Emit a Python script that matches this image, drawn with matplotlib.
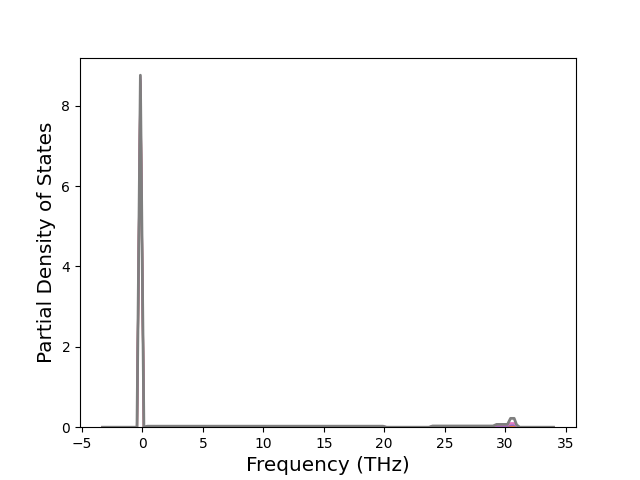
import matplotlib
matplotlib.use("Agg")
import matplotlib.pyplot as plt

# frequency breakpoints (THz)
freq = [-3.3, -0.45, -0.17, 0.12, 0.4, 19.9, 20.2, 23.7, 24.0, 29.0, 29.3,
        30.2, 30.45, 30.75, 30.95, 31.2, 34.0]

# partial DOS per species (drawn from bottom to top)
pdos_brown = [0, 0, 8.55, 0, 0.005, 0.005, 0, 0, 0.005, 0.005, 0.01,
              0.01, 0.01, 0.01, 0.01, 0, 0]
pdos_orange = [0, 0, 8.6, 0, 0.01, 0.01, 0, 0, 0.01, 0.01, 0.02,
               0.02, 0.02, 0.02, 0.02, 0, 0]
pdos_purple = [0, 0, 8.65, 0, 0.015, 0.015, 0, 0, 0.02, 0.02, 0.03,
               0.03, 0.05, 0.05, 0.03, 0, 0]
pdos_pink = [0, 0, 8.72, 0, 0.02, 0.02, 0, 0, 0.025, 0.025, 0.05,
             0.05, 0.1, 0.1, 0.04, 0, 0]
pdos_total = [0, 0, 8.76, 0, 0.025, 0.025, 0, 0, 0.03, 0.03, 0.07,
              0.07, 0.22, 0.22, 0.06, 0, 0]

fig, ax = plt.subplots(figsize=(6.4, 4.8), dpi=100)
ax.plot(freq, pdos_brown, color="tab:brown", lw=1.5)
ax.plot(freq, pdos_orange, color="tab:orange", lw=1.5)
ax.plot(freq, pdos_purple, color="tab:purple", lw=1.5)
ax.plot(freq, pdos_pink, color="tab:pink", lw=1.5)
ax.plot(freq, pdos_total, color="tab:gray", lw=2)

ax.set_ylim(bottom=0)
ax.set_xlabel("Frequency (THz)", fontsize="x-large")
ax.set_ylabel("Partial Density of States", fontsize="x-large")

plt.savefig("out.png", dpi=100)
